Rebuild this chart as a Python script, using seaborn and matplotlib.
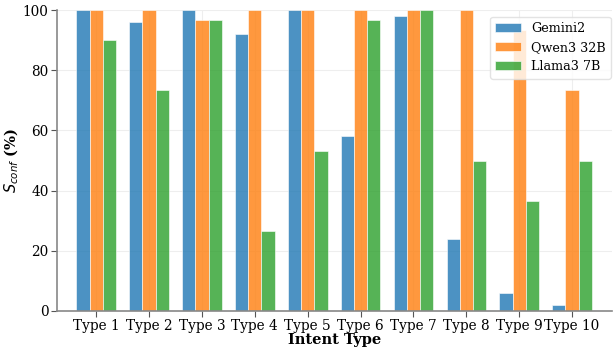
import pandas as pd
import seaborn as sns
import matplotlib.pyplot as plt

# values (percent)
intent_types = ['Type 1', 'Type 2', 'Type 3', 'Type 4', 'Type 5',
                'Type 6', 'Type 7', 'Type 8', 'Type 9', 'Type 10']
models = ['Gemini2', 'Qwen3 32B', 'Llama3 7B']
gemini2 = [100, 96, 100, 92, 100, 58, 98, 24, 6, 2]
qwen3_32b = [100, 100, 96.7, 100, 100, 100, 100, 100, 93.3, 73.3]
llama3_7b = [90, 73.3, 96.7, 26.7, 53.3, 96.7, 100, 50, 36.7, 50]

# long format for seaborn
df = pd.DataFrame({
    'Intent Type': intent_types * 3,
    'Model': [models[0]] * 10 + [models[1]] * 10 + [models[2]] * 10,
    'Score': gemini2 + qwen3_32b + llama3_7b,
})

sns.set_style('whitegrid')
plt.rcParams['font.family'] = ['DejaVu Serif']
plt.rcParams['mathtext.fontset'] = 'dejavusans'
plt.rcParams['text.color'] = 'black'
plt.rcParams['axes.labelcolor'] = 'black'
plt.rcParams['xtick.color'] = 'black'
plt.rcParams['ytick.color'] = 'black'

fig = plt.figure(figsize=(6.13, 3.49), dpi=100)
ax = fig.add_axes([0.093, 0.109, 0.905, 0.862])

palette = ['#1f77b4', '#ff7f0e', '#2ca02c']
sns.barplot(data=df, x='Intent Type', y='Score', hue='Model', hue_order=models,
            order=intent_types, palette=palette, saturation=1, width=0.75,
            alpha=0.8, edgecolor='white', linewidth=0.5, ax=ax)

ax.set_ylim(0, 100)
ax.set_xlim(-0.74, 9.75)
ax.set_yticks([0, 20, 40, 60, 80, 100])
ax.grid(True, color='#eeeeee', linewidth=0.8)
ax.set_axisbelow(True)

for side in ['top', 'right']:
    ax.spines[side].set_visible(False)
for side in ['left', 'bottom']:
    ax.spines[side].set_color('#888888')
    ax.spines[side].set_linewidth(1.2)

ax.tick_params(axis='both', which='major', labelsize=9.8, length=4,
               color='#555555', left=True, bottom=True, pad=2)

ax.set_xlabel('Intent Type', fontsize=10.5, fontweight='bold', labelpad=0)
ax.set_ylabel(r'$S_{conf}$ (%)', fontsize=10.5, fontweight='bold', labelpad=1)

leg = ax.legend(loc='upper right', fontsize=9.2, frameon=True, title=None,
                bbox_to_anchor=(1.01, 1.0))
leg.get_frame().set_edgecolor('#dddddd')

plt.savefig('out.png', dpi=100)
